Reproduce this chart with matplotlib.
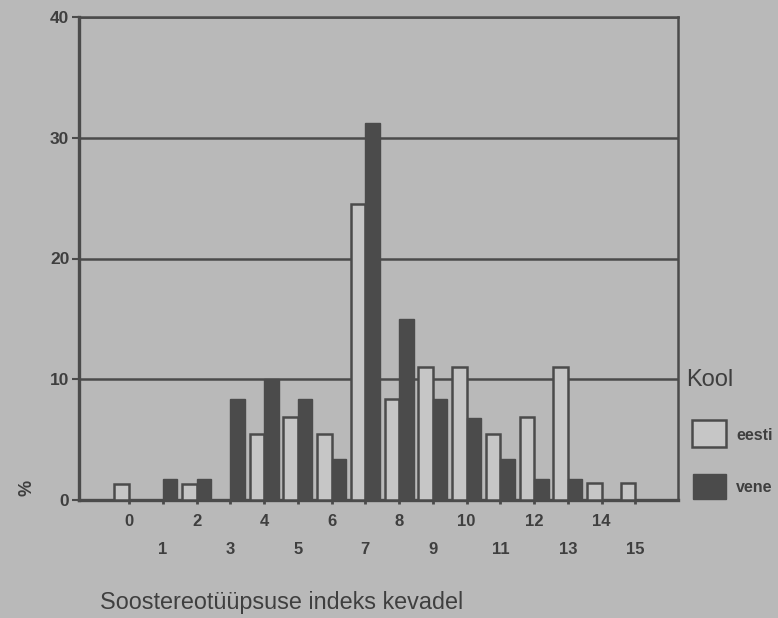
import matplotlib.pyplot as plt
from matplotlib.patches import Rectangle

plt.rcParams['font.family'] = ['Liberation Sans', 'DejaVu Sans']

# Andmed (loetud pildilt, %)
indeks = list(range(16))
eesti = [1.3, 0, 1.3, 0, 5.5, 6.9, 5.5, 24.5, 8.4, 11.0, 11.0, 5.5, 6.9, 11.0, 1.4, 1.4]
vene = [0, 1.7, 1.7, 8.4, 10.0, 8.4, 3.4, 31.2, 15.0, 8.4, 6.8, 3.4, 1.7, 1.7, 0, 0]
y_ticks = [0, 10, 20, 30, 40]

bg = '#b9b9b9'
dark = '#4b4b4b'
light = '#c6c6c6'
txt = '#3f3f3f'

fig = plt.figure(figsize=(7.78, 6.18), dpi=100, facecolor=bg)
ax = fig.add_axes([79 / 778, 118 / 618, 599 / 778, 483 / 618])
ax.set_facecolor(bg)

w = 0.43
# nullväärtustega tulpi ei joonistata
e_x = [i - w / 2 for i, v in zip(indeks, eesti) if v > 0]
e_v = [v for v in eesti if v > 0]
v_x = [i + w / 2 for i, v in zip(indeks, vene) if v > 0]
v_v = [v for v in vene if v > 0]
ax.bar(e_x, e_v, width=w, color=light, edgecolor=dark, linewidth=1.8, zorder=3)
ax.bar(v_x, v_v, width=w, color=dark, edgecolor=dark, linewidth=1.0, zorder=3)

ax.set_xlim(-1.48, 16.26)
ax.set_ylim(0, 40)

# ruudustik
for v in y_ticks[1:]:
    ax.axhline(v, color=dark, linewidth=1.8, zorder=1)
for s in ax.spines.values():
    s.set_color(dark)
    s.set_linewidth(1.8)
ax.spines['left'].set_linewidth(2.4)
ax.spines['bottom'].set_linewidth(2.4)

ax.set_yticks(y_ticks)
ax.set_yticklabels([str(v) for v in y_ticks], fontsize=12.5, fontweight='bold', color=txt)
ax.tick_params(axis='y', length=5, width=1.5, color=dark, pad=2)

# astmelised x-sildid
ax.set_xticks(indeks[0::2])
ax.set_xticklabels([str(i) for i in indeks[0::2]])
ax.set_xticks(indeks[1::2], minor=True)
ax.set_xticklabels([str(i) for i in indeks[1::2]], minor=True)
ax.tick_params(axis='x', which='both', length=3, width=2, color=dark,
               labelsize=12, labelcolor=txt)
ax.tick_params(axis='x', which='major', pad=7)
ax.tick_params(axis='x', which='minor', pad=27)
for lab in ax.get_xticklabels(which='both'):
    lab.set_fontweight('bold')

fig.text(27 / 778, 1 - 488 / 618, '%', rotation=90, fontsize=13,
         ha='center', va='center', color=txt, fontweight='bold')
fig.text(100 / 778, 1 - 602 / 618, 'Soostereotüüpsuse indeks kevadel',
         fontsize=16.8, ha='left', va='center', color=txt)

# legend
fig.text(686 / 778, 1 - 380 / 618, 'Kool', fontsize=17, ha='left',
         va='center', color=txt)
fig.add_artist(Rectangle((692 / 778, 1 - 447 / 618), 34 / 778, 27 / 618,
                         transform=fig.transFigure, facecolor=light,
                         edgecolor=dark, linewidth=1.8))
fig.add_artist(Rectangle((693 / 778, 1 - 499 / 618), 33 / 778, 25 / 618,
                         transform=fig.transFigure, facecolor=dark,
                         edgecolor=dark, linewidth=1.0))
fig.text(736 / 778, 1 - 436 / 618, 'eesti', fontsize=11.5, ha='left',
         va='center', color=txt, fontweight='bold')
fig.text(736 / 778, 1 - 488 / 618, 'vene', fontsize=11.5, ha='left',
         va='center', color=txt, fontweight='bold')

fig.savefig('out.png', dpi=100, facecolor=bg)
